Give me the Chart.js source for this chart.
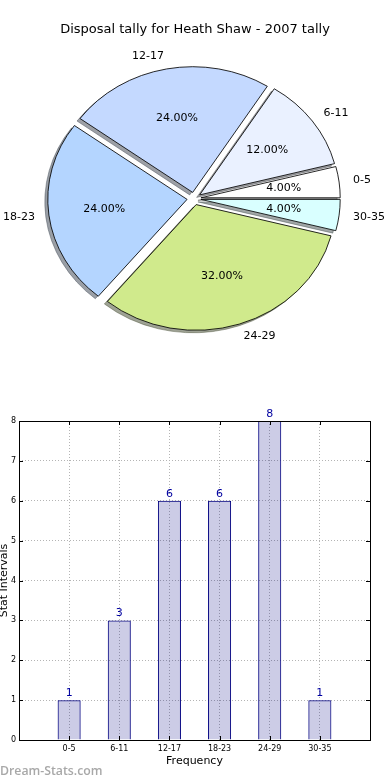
<!DOCTYPE html>
<html>
<head>
<meta charset="utf-8">
<script src="https://cdn.jsdelivr.net/npm/chart.js@4.4.1/dist/chart.umd.min.js"></script>
<style>
  html, body { margin: 0; padding: 0; background: #fff; }
  #wrap { position: relative; width: 390px; height: 780px; overflow: hidden; }
  canvas { display: block; }
  #mark { position: absolute; left: 0; top: 762px; font: 600 12.3px "Open Sans", sans-serif; color: #a8a8a8; white-space: nowrap; }
</style>
</head>
<body>
<div id="wrap">
  <canvas id="pie" width="390" height="400"></canvas>
  <canvas id="bars" width="390" height="380"></canvas>
  <div id="mark">Dream-Stats.com</div>
</div>
<script>
// data
const categories = ['0-5', '6-11', '12-17', '18-23', '24-29', '30-35'];
const counts = [1, 3, 6, 6, 8, 1];
const sliceColors = ['#ffffff', '#eaf1ff', '#c4d9ff', '#b4d5ff', '#d0ea8c', '#d9ffff'];
const chartTitle = 'Disposal tally for Heath Shaw - 2007 tally';
const xTitle = 'Frequency';
const yTitle = 'Stat Intervals';

Chart.defaults.font.family = '"DejaVu Sans", sans-serif';
Chart.defaults.color = '#000';

// matplotlib look: exploded wedges, drop shadow, slightly stretched ellipse
const PIE_R = 125.7;
const EXPLODE = 6.3;
const STRETCH = 1.108;
const SHADOW_DX = -3, SHADOW_DY = 2.5;
const total = counts.reduce((a, b) => a + b, 0);

function pieCenter(chart) {
  const a = chart.chartArea;
  return {cx: (a.left + a.right) / 2, cy: (a.top + a.bottom) / 2};
}

function stretch(ctx, cx, cy) {
  ctx.translate(cx, cy);
  ctx.scale(STRETCH, 1);
  ctx.translate(-cx, -cy);
}

// matplotlib shadow colour: 0.3 * face colour at half alpha
function shadowColor(hex) {
  const n = parseInt(hex.slice(1), 16);
  const r = Math.round(((n >> 16) & 255) * 0.3);
  const g = Math.round(((n >> 8) & 255) * 0.3);
  const b = Math.round((n & 255) * 0.3);
  return `rgba(${r},${g},${b},0.5)`;
}

const piePlugin = {
  id: 'mplPie',
  afterDatasetsUpdate(chart) {
    const {cx, cy} = pieCenter(chart);
    chart.getDatasetMeta(0).data.forEach((arc) => {
      const mid = (arc.startAngle + arc.endAngle) / 2;
      arc.x = cx + EXPLODE * Math.cos(mid);
      arc.y = cy + EXPLODE * Math.sin(mid);
    });
  },
  beforeDatasetsDraw(chart) {
    const {ctx} = chart;
    const {cx, cy} = pieCenter(chart);
    const colors = chart.data.datasets[0].backgroundColor;
    // shadows first, under every wedge
    ctx.save();
    ctx.translate(SHADOW_DX, SHADOW_DY);
    stretch(ctx, cx, cy);
    chart.getDatasetMeta(0).data.forEach((arc, i) => {
      ctx.beginPath();
      ctx.moveTo(arc.x, arc.y);
      ctx.arc(arc.x, arc.y, arc.outerRadius, arc.startAngle, arc.endAngle);
      ctx.closePath();
      ctx.fillStyle = shadowColor(colors[i]);
      ctx.strokeStyle = shadowColor(colors[i]);
      ctx.lineWidth = 0.8;
      ctx.fill();
      ctx.stroke();
    });
    ctx.restore();
    ctx.save();
    stretch(ctx, cx, cy);
  },
  afterDatasetsDraw(chart) {
    chart.ctx.restore();
  },
  afterDraw(chart) {
    const {ctx} = chart;
    const {cx, cy} = pieCenter(chart);
    const ds = chart.data.datasets[0];
    ctx.save();
    ctx.fillStyle = '#000';
    ctx.textBaseline = 'middle';
    ctx.font = '11px "DejaVu Sans"';
    chart.getDatasetMeta(0).data.forEach((arc, i) => {
      const mid = (arc.startAngle + arc.endAngle) / 2;
      const c = Math.cos(mid), s = Math.sin(mid);
      const r = arc.outerRadius;
      const lr = EXPLODE + 1.1 * r;
      ctx.textAlign = c > 0 ? 'left' : 'right';
      ctx.fillText(chart.data.labels[i], cx + STRETCH * lr * c, cy + lr * s);
      const pr = EXPLODE + 0.6 * r;
      ctx.textAlign = 'center';
      ctx.fillText((ds.data[i] / total * 100).toFixed(2) + '%', cx + STRETCH * pr * c, cy + pr * s);
    });
    ctx.font = '13px "DejaVu Sans"';
    ctx.textAlign = 'center';
    ctx.fillText(chartTitle, 195, 30);
    ctx.restore();
  }
};

// matplotlib pie goes counter-clockwise from 3 o'clock; Chart.js goes clockwise
const pieLabels = categories.slice().reverse();
const pieValues = counts.slice().reverse();
const pieColors = sliceColors.slice().reverse();

new Chart(document.getElementById('pie'), {
  type: 'pie',
  data: {
    labels: pieLabels,
    datasets: [{
      data: pieValues,
      backgroundColor: pieColors,
      borderColor: '#000',
      borderWidth: 0.8,
      clip: false
    }]
  },
  options: {
    responsive: false,
    animation: false,
    rotation: 90,
    radius: PIE_R,
    layout: {padding: {left: 0, right: 2, top: 0, bottom: 2.8}},
    events: [],
    plugins: {legend: {display: false}, tooltip: {enabled: false}}
  },
  plugins: [piePlugin]
});

// bar chart: empty slots at both ends give the -1..6 x range
const barLabels = ['', ...categories, ''];
const barValues = [null, ...counts, null];

const barPlugin = {
  id: 'mplBars',
  afterDatasetsDraw(chart) {
    const {ctx, chartArea: a} = chart;
    ctx.save();
    // tick marks pointing inward
    ctx.strokeStyle = '#000';
    ctx.lineWidth = 1;
    ctx.beginPath();
    const ys = chart.scales.y;
    ys.ticks.forEach((t) => {
      const y = Math.round(ys.getPixelForValue(t.value)) + 0.5;
      ctx.moveTo(a.left, y); ctx.lineTo(a.left + 4, y);
      ctx.moveTo(a.right, y); ctx.lineTo(a.right - 4, y);
    });
    const xs = chart.scales.x;
    for (let i = 1; i <= categories.length; i++) {
      const x = Math.round(xs.getPixelForTick(i)) + 0.5;
      ctx.moveTo(x, a.bottom); ctx.lineTo(x, a.bottom - 4);
      ctx.moveTo(x, a.top); ctx.lineTo(x, a.top + 4);
    }
    ctx.stroke();
    // axes box
    ctx.strokeRect(Math.round(a.left) + 0.5, Math.round(a.top) + 0.5, Math.round(a.width), Math.round(a.height));
    // value labels
    ctx.fillStyle = '#0000a0';
    ctx.font = '11px "DejaVu Sans"';
    ctx.textAlign = 'center';
    ctx.textBaseline = 'alphabetic';
    const ds = chart.data.datasets[0];
    chart.getDatasetMeta(0).data.forEach((bar, i) => {
      if (ds.data[i] == null) return;
      ctx.fillText(String(ds.data[i]), bar.x, bar.y - 4);
    });
    // axis titles
    ctx.fillStyle = '#000';
    ctx.fillText(xTitle, (a.left + a.right) / 2, 364);
    ctx.translate(7, (a.top + a.bottom) / 2);
    ctx.rotate(-Math.PI / 2);
    ctx.fillText(yTitle, 0, 0);
    ctx.restore();
  }
};

const gridStyle = {color: '#b4b4b4', lineWidth: 1, drawTicks: false, offset: false};

new Chart(document.getElementById('bars'), {
  type: 'bar',
  data: {
    labels: barLabels,
    datasets: [{
      data: barValues,
      backgroundColor: 'rgba(0,0,128,0.2)',
      borderColor: '#000080',
      borderWidth: 1,
      barPercentage: 0.46,
      categoryPercentage: 1
    }]
  },
  options: {
    responsive: false,
    animation: false,
    events: [],
    layout: {padding: {left: 0, top: 21, right: 20, bottom: 0}},
    plugins: {legend: {display: false}, tooltip: {enabled: false}},
    scales: {
      x: {
        offset: false,
        grid: gridStyle,
        border: {display: false, dash: [1, 2]},
        ticks: {font: {size: 8}, color: '#000', padding: 4, maxRotation: 0, autoSkip: false},
        afterFit(s) { s.height = 40; }
      },
      y: {
        min: 0,
        max: 8,
        grid: gridStyle,
        border: {display: false, dash: [1, 2]},
        ticks: {stepSize: 1, font: {size: 8}, color: '#000', padding: 3},
        afterFit(s) { s.width = 19; }
      }
    }
  },
  plugins: [barPlugin]
});
</script>
</body>
</html>
